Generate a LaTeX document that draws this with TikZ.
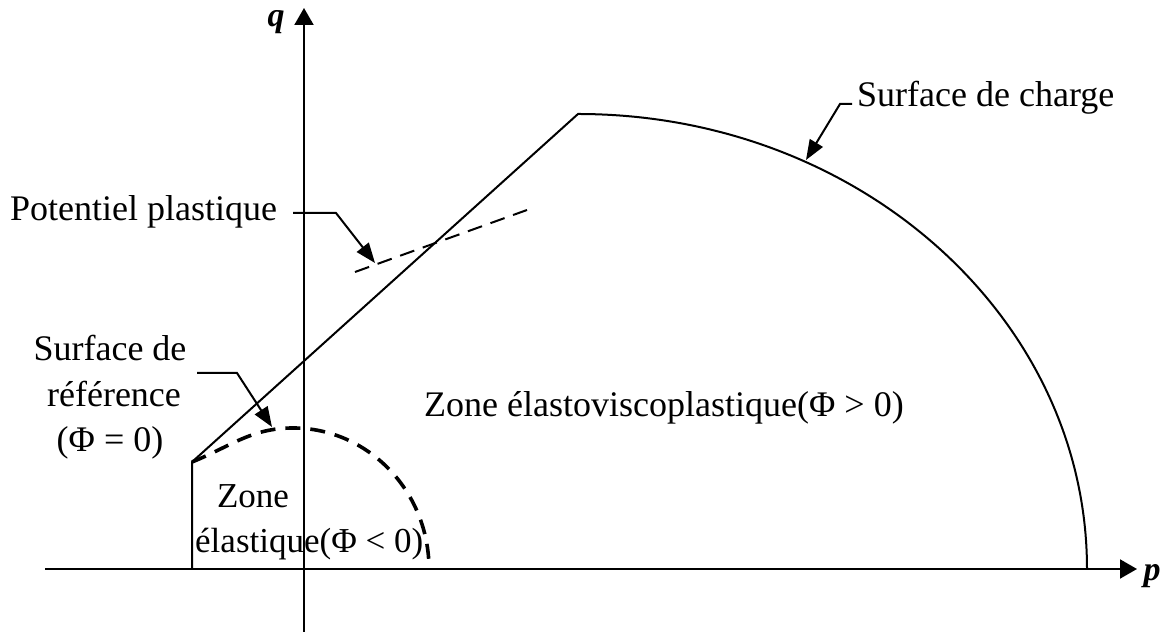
\documentclass[tikz,border=0pt]{standalone}
\usepackage{fontspec}
\setmainfont{Liberation Serif}
\usetikzlibrary{arrows.meta}
\begin{document}
\begin{tikzpicture}[x=1pt,y=1pt,
  solidline/.style={line width=2pt},
  axisline/.style={line width=2pt,-{Triangle[length=17pt,width=19pt]}},
  leader/.style={line width=2pt,-{Triangle[length=20pt,width=15pt]}},
  refdash/.style={line width=3.6pt,dash pattern=on 15pt off 10pt},
  potdash/.style={line width=2pt,dash pattern=on 15pt off 9pt},
  lbl/.style={font=\fontsize{36}{40}\selectfont,inner sep=0pt},
  zlbl/.style={font=\fontsize{35}{40}\selectfont,inner sep=0pt},
  axislbl/.style={font=\fontsize{34}{40}\selectfont\bfseries\itshape,inner sep=0pt}
]
\useasboundingbox (0,0) rectangle (1170,634);

% axes
\coordinate (hx0) at (45,65);
\coordinate (hx1) at (1137,65);
\coordinate (vy0) at (304,2);
\coordinate (vy1) at (304,626);
\draw[axisline] (hx0) -- (hx1);
\draw[axisline] (vy0) -- (vy1);
\node[axislbl] (q) at (276,612) {q};
\node[axislbl] (p) at (1152,58) {p};

% loading surface
\coordinate (A) at (192,65);
\coordinate (B) at (192,172);
\coordinate (C) at (578,520);
\draw[solidline] (A) -- (B) -- (C) arc[start angle=90,end angle=0,x radius=509,y radius=455] coordinate (D);

% reference surface (dashed)
\coordinate (Pk) at (293,206);
\draw[refdash] (B) to[out=22,in=180] (Pk) arc[start angle=90,end angle=0,x radius=136,y radius=141] coordinate (E);

% plastic potential (dashed tangent)
\coordinate (T1) at (355,362);
\coordinate (T2) at (527,424);
\draw[potdash] (T1) -- (T2);

% labels
\node[lbl,anchor=base west] (lpot) at (10,413) {Potentiel plastique};
\coordinate (lp1) at (293,421);
\coordinate (lp2) at (336,421);
\coordinate (lp3) at (375,371);
\draw[leader] (lp1) -- (lp2) -- (lp3);

\node[lbl,anchor=base west] (lch) at (857,527) {Surface de charge};
\coordinate (lc1) at (852,530);
\coordinate (lc2) at (840,530);
\coordinate (lc3) at (806,474);
\draw[leader] (lc1) -- (lc2) -- (lc3);

\node[lbl,anchor=base] (lref1) at (110,273) {Surface de};
\node[lbl,anchor=base] (lref2) at (114,227) {référence};
\node[lbl,anchor=base] (lref3) at (110,182) {(Φ = 0)};
\coordinate (lr1) at (197,261);
\coordinate (lr2) at (237,261);
\coordinate (lr3) at (272,207);
\draw[leader] (lr1) -- (lr2) -- (lr3);

\node[lbl,anchor=base west] (zevp) at (424,217) {Zone élastoviscoplastique(Φ > 0)};
\node[zlbl,anchor=base] (zel1) at (253,126) {Zone};
\node[zlbl,anchor=base west] (zel2) at (195,81) {élastique(Φ < 0)};
\end{tikzpicture}
\end{document}
